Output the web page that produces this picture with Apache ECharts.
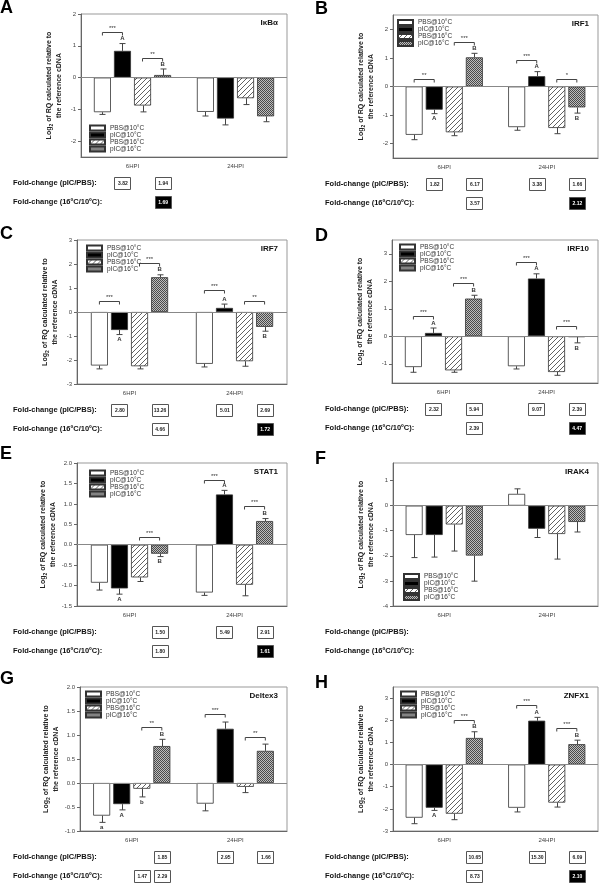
<!DOCTYPE html>
<html>
<head>
<meta charset="utf-8">
<script src="https://cdn.jsdelivr.net/npm/echarts@6/dist/echarts.min.js"></script>
<style>
html, body { margin: 0; padding: 0; background: #fff; }
#main { width: 600px; height: 885px; }
</style>
</head>
<body>
<div id="main"></div>
<script>
var categories = ['6HPI', '24HPI'];
var groups = ['PBS@10°C', 'pIC@10°C', 'PBS@16°C', 'pIC@16°C'];

// means and SE, order: 6HPI (4 groups) then 24HPI (4 groups)
var ikbaMean = [-1.09, 0.84, -0.88, 0.08, -1.08, -1.29, -0.65, -1.22];
var ikbaErr = [0.07, 0.23, 0.2, 0.19, 0.13, 0.2, 0.2, 0.17];
var irf1Mean = [-1.69, -0.81, -1.6, 1.02, -1.42, 0.36, -1.45, -0.73];
var irf1Err = [0.17, 0.14, 0.12, 0.14, 0.11, 0.16, 0.2, 0.2];
var irf7Mean = [-2.23, -0.75, -2.26, 1.45, -2.16, 0.17, -2.05, -0.62];
var irf7Err = [0.14, 0.19, 0.11, 0.1, 0.13, 0.16, 0.21, 0.18];
var irf10Mean = [-1.12, 0.12, -1.24, 1.37, -1.09, 2.1, -1.3, -0.03];
var irf10Err = [0.19, 0.18, 0.07, 0.12, 0.1, 0.17, 0.12, 0.21];
var stat1Mean = [-0.93, -1.07, -0.8, -0.22, -1.17, 1.23, -0.98, 0.58];
var stat1Err = [0.18, 0.14, 0.1, 0.07, 0.07, 0.1, 0.27, 0.06];
var irak4Mean = [-1.17, -1.17, -0.75, -1.99, 0.47, -0.92, -1.13, -0.65];
var irak4Err = [0.9, 0.88, 1.06, 1.02, 0.2, 0.35, 1.0, 0.4];
var deltexMean = [-0.68, -0.44, -0.12, 0.77, -0.43, 1.13, -0.08, 0.67];
var deltexErr = [0.14, 0.12, 0.17, 0.14, 0.15, 0.14, 0.12, 0.14];
var znfx1Mean = [-2.4, -1.95, -2.22, 1.2, -1.95, 1.98, -1.72, 0.92];
var znfx1Err = [0.27, 0.12, 0.27, 0.28, 0.19, 0.15, 0.2, 0.18];

// significance brackets: [category, from bar, to bar, height, stars]
var ikbaSig = [[0, 0, 1, 1.42, '***'], [0, 2, 3, 0.6, '**']];
var irf1Sig = [[0, 0, 1, 0.27, '**'], [0, 2, 3, 1.57, '***'], [1, 0, 1, 0.93, '***'], [1, 2, 3, 0.26, '*']];
var irf7Sig = [[0, 0, 1, 0.44, '***'], [0, 2, 3, 2.04, '***'], [1, 0, 1, 0.93, '***'], [1, 2, 3, 0.44, '**']];
var irf10Sig = [[0, 0, 1, 0.73, '***'], [0, 2, 3, 1.94, '***'], [1, 0, 1, 2.69, '***'], [1, 2, 3, 0.36, '***']];
var stat1Sig = [[0, 2, 3, 0.2, '***'], [1, 0, 1, 1.59, '***'], [1, 2, 3, 0.94, '***']];
var irak4Sig = [];
var deltexSig = [[0, 2, 3, 1.16, '**'], [1, 0, 1, 1.44, '***'], [1, 2, 3, 0.95, '**']];
var znfx1Sig = [[0, 2, 3, 2.0, '***'], [1, 0, 1, 2.68, '***'], [1, 2, 3, 1.63, '***']];

// letters beside error bars: [category, bar, letter]
var ikbaLetters = [[0, 1, 'A'], [0, 3, 'B']];
var fourLetters = [[0, 1, 'A'], [0, 3, 'B'], [1, 1, 'A'], [1, 3, 'B']];
var deltexLetters = [[0, 0, 'a'], [0, 1, 'A'], [0, 2, 'b'], [0, 3, 'B']];

// fold-change boxes: [row, category, bar, text, dark]
var ikbaFold = [[0, 0, 1, '3.82', 0], [0, 0, 3, '1.94', 0], [1, 0, 3, '1.69', 1]];
var irf1Fold = [[0, 0, 1, '1.82', 0], [0, 0, 3, '6.17', 0], [0, 1, 1, '3.38', 0], [0, 1, 3, '1.66', 0], [1, 0, 3, '3.57', 0], [1, 1, 3, '2.12', 1]];
var irf7Fold = [[0, 0, 1, '2.80', 0], [0, 0, 3, '13.26', 0], [0, 1, 1, '5.01', 0], [0, 1, 3, '2.69', 0], [1, 0, 3, '4.66', 0], [1, 1, 3, '1.72', 1]];
var irf10Fold = [[0, 0, 1, '2.32', 0], [0, 0, 3, '5.94', 0], [0, 1, 1, '9.07', 0], [0, 1, 3, '2.39', 0], [1, 0, 3, '2.39', 0], [1, 1, 3, '4.47', 1]];
var stat1Fold = [[0, 0, 3, '1.50', 0], [0, 1, 1, '5.49', 0], [0, 1, 3, '2.91', 0], [1, 0, 3, '1.80', 0], [1, 1, 3, '1.61', 1]];
var irak4Fold = [];
var deltexFold = [[0, 0, 3, '1.85', 0], [0, 1, 1, '2.95', 0], [0, 1, 3, '1.66', 0], [1, 0, 2, '1.47', 0], [1, 0, 3, '2.29', 0]];
var znfx1Fold = [[0, 0, 3, '10.65', 0], [0, 1, 1, '15.30', 0], [0, 1, 3, '6.09', 0], [1, 0, 3, '8.73', 0], [1, 1, 3, '2.10', 1]];

// y tick labels
var ticksA = [-2, -1, 0, 1, 2];
var ticksB = [-2, -1, 0, 1, 2];
var ticksC = [-3, -2, -1, 0, 1, 2, 3];
var ticksD = [-1, 0, 1, 2, 3];
var ticksE = [-1.5, -1, -0.5, 0, 0.5, 1, 1.5, 2];
var ticksF = [-4, -3, -2, -1, 0, 1];
var ticksG = [-1, -0.5, 0, 0.5, 1, 1.5, 2];
var ticksH = [-3, -2, -1, 0, 1, 2, 3];

var panels = [
    {tag: 'A', gene: 'IκBα', mean: ikbaMean, err: ikbaErr, sig: ikbaSig, letters: ikbaLetters, fold: ikbaFold, min: -2.5, max: 2, ticks: ticksA, dec: 0, box: [81, 14, 206, 143], leg: [89, 124.5], tagPos: [0, -1]},
    {tag: 'B', gene: 'IRF1', mean: irf1Mean, err: irf1Err, sig: irf1Sig, letters: fourLetters, fold: irf1Fold, min: -2.5, max: 2.5, ticks: ticksB, dec: 0, box: [393, 15, 205, 143], leg: [397, 19], tagPos: [315, 0]},
    {tag: 'C', gene: 'IRF7', mean: irf7Mean, err: irf7Err, sig: irf7Sig, letters: fourLetters, fold: irf7Fold, min: -3, max: 3, ticks: ticksC, dec: 0, box: [77, 240, 210, 144], leg: [86, 244.5], tagPos: [0, 225]},
    {tag: 'D', gene: 'IRF10', mean: irf10Mean, err: irf10Err, sig: irf10Sig, letters: fourLetters, fold: irf10Fold, min: -1.7, max: 3.5, ticks: ticksD, dec: 0, box: [392, 240, 206, 143], leg: [399, 243.5], tagPos: [315, 227]},
    {tag: 'E', gene: 'STAT1', mean: stat1Mean, err: stat1Err, sig: stat1Sig, letters: fourLetters, fold: stat1Fold, min: -1.5, max: 2, ticks: ticksE, dec: 1, box: [77, 463, 210, 143], leg: [89, 469.5], tagPos: [0, 445]},
    {tag: 'F', gene: 'IRAK4', mean: irak4Mean, err: irak4Err, sig: irak4Sig, letters: [], fold: irak4Fold, min: -4, max: 1.7, ticks: ticksF, dec: 0, box: [393, 463, 205, 143], leg: [403, 573], tagPos: [315, 450]},
    {tag: 'G', gene: 'Deltex3', mean: deltexMean, err: deltexErr, sig: deltexSig, letters: deltexLetters, fold: deltexFold, min: -1, max: 2, ticks: ticksG, dec: 1, box: [80, 687, 207, 144], leg: [85, 690.5], tagPos: [0, 670]},
    {tag: 'H', gene: 'ZNFX1', mean: znfx1Mean, err: znfx1Err, sig: znfx1Sig, letters: fourLetters, fold: znfx1Fold, min: -3, max: 3.5, ticks: ticksH, dec: 0, box: [393, 687, 205, 144], leg: [400, 690.5], tagPos: [315, 674]}
];

var FONT = '"Liberation Sans", Arial, sans-serif';
var barW = 17;
var step = barW * 1.18;   // bar width + 18% gap

function makeHatch() {
    var c = document.createElement('canvas');
    c.width = 5; c.height = 5;
    var ctx = c.getContext('2d');
    ctx.fillStyle = '#fff';
    ctx.fillRect(0, 0, 5, 5);
    ctx.strokeStyle = '#505050';
    ctx.lineWidth = 0.9;
    ctx.beginPath();
    ctx.moveTo(0, 5); ctx.lineTo(5, 0);
    ctx.moveTo(-1, 1); ctx.lineTo(1, -1);
    ctx.moveTo(4, 6); ctx.lineTo(6, 4);
    ctx.stroke();
    return c;
}
function makeChecker() {
    var c = document.createElement('canvas');
    c.width = 2; c.height = 2;
    var ctx = c.getContext('2d');
    ctx.fillStyle = '#bdbdbd';
    ctx.fillRect(0, 0, 2, 2);
    ctx.fillStyle = '#4a4a4a';
    ctx.fillRect(0, 0, 1, 1);
    ctx.fillRect(1, 1, 1, 1);
    return c;
}
var fills = ['#ffffff', '#000000', {image: makeHatch(), repeat: 'repeat'}, {image: makeChecker(), repeat: 'repeat'}];

function barX(api, cat, k) {
    return api.coord([cat, 0])[0] + (k - 1.5) * step;
}

function errRender(params, api) {
    var cat = api.value(0), v = api.value(1), e = api.value(2), k = api.value(3);
    var s = v >= 0 ? 1 : -1;
    var y0 = api.coord([cat, v])[1];
    var y1 = api.coord([cat, v + s * e])[1];
    var x = Math.round(barX(api, cat, k)) + 0.5;
    return {type: 'group', children: [
        {type: 'line', shape: {x1: x, y1: y0, x2: x, y2: y1}, style: {stroke: '#444', lineWidth: 1}},
        {type: 'line', shape: {x1: x - 3, y1: y1, x2: x + 3, y2: y1}, style: {stroke: '#444', lineWidth: 1}}
    ]};
}

function sigRender(list) {
    return function (params, api) {
        var b = list[params.dataIndex];
        var y = Math.round(api.coord([b[0], b[3]])[1]) + 0.5;
        var x1 = barX(api, b[0], b[1]), x2 = barX(api, b[0], b[2]);
        return {type: 'group', children: [
            {type: 'polyline', shape: {points: [[x1, y + 3], [x1, y], [x2, y], [x2, y + 3]]}, style: {stroke: '#444', lineWidth: 1, fill: null}},
            {type: 'text', style: {text: b[4], x: (x1 + x2) / 2, y: y - 1, font: '6px ' + FONT, fill: '#333', textAlign: 'center', textVerticalAlign: 'bottom'}}
        ]};
    };
}

function letterRender(list, mean, err) {
    return function (params, api) {
        var l = list[params.dataIndex];
        var idx = l[0] * 4 + l[1];
        var v = mean[idx], s = v >= 0 ? 1 : -1;
        var y = api.coord([l[0], v + s * err[idx]])[1] - s * 5;
        return {type: 'text', style: {text: l[2], x: barX(api, l[0], l[1]), y: y, font: 'bold 6px ' + FONT, fill: '#333', textAlign: 'center', textVerticalAlign: 'middle'}};
    };
}

function foldRender(list) {
    return function (params, api) {
        var f = list[params.dataIndex];
        var cs = params.coordSys;
        var x = barX(api, f[1], f[2]);
        var y = cs.y + cs.height + (f[0] === 0 ? 26 : 45);
        return {type: 'group', children: [
            {type: 'rect', shape: {x: Math.round(x - 8) + 0.5, y: Math.round(y - 6) + 0.5, width: 16, height: 12}, style: {fill: f[4] ? '#000' : '#fff', stroke: '#555', lineWidth: 1}},
            {type: 'text', style: {text: f[3], x: x + 0.5, y: y + 0.5, font: 'bold 5px ' + FONT, fill: f[4] ? '#fff' : '#222', textAlign: 'center', textVerticalAlign: 'middle'}}
        ]};
    };
}

var option = {
    animation: false,
    textStyle: {fontFamily: FONT},
    grid: [], xAxis: [], yAxis: [], legend: [], series: [], graphic: []
};

panels.forEach(function (p, i) {
    option.grid.push({left: p.box[0], top: p.box[1], width: p.box[2], height: p.box[3], show: true, borderColor: '#999', borderWidth: 1});
    option.xAxis.push({
        type: 'category', gridIndex: i, data: categories,
        axisLine: {onZero: false, lineStyle: {color: '#666', width: 1}},
        axisTick: {alignWithLabel: true, length: 3, lineStyle: {color: '#666'}},
        axisLabel: {fontSize: 6, color: '#444', margin: 6}
    });
    option.yAxis.push({
        type: 'value', gridIndex: i, min: p.min, max: p.max,
        splitLine: {show: false},
        axisLine: {show: true, lineStyle: {color: '#666', width: 1}},
        axisTick: {show: true, length: 3, customValues: p.ticks, lineStyle: {color: '#666'}},
        axisLabel: {fontSize: 6, color: '#444', margin: 5, customValues: p.ticks,
            formatter: (function (d) { return function (v) { return v.toFixed(d); }; })(p.dec)},
        name: 'Log{s|2} of RQ calculated relative to\nthe reference cDNA',
        nameLocation: 'middle', nameRotate: 90, nameGap: 17,
        nameTextStyle: {fontSize: 7, fontWeight: 'bold', color: '#222', lineHeight: 10,
            rich: {s: {fontSize: 5, fontWeight: 'bold', color: '#222', verticalAlign: 'bottom', lineHeight: 10}}}
    });
    option.legend.push({
        orient: 'vertical', left: p.leg[0], top: p.leg[1], padding: 0,
        itemWidth: 15, itemHeight: 5, itemGap: 0, selectedMode: false,
        icon: 'rect', data: groups,
        textStyle: {fontSize: 6.5, color: '#333', lineHeight: 7}
    });
    groups.forEach(function (g, k) {
        var s = {
            type: 'bar', name: g, xAxisIndex: i, yAxisIndex: i,
            barWidth: barW, barGap: '18%', silent: true,
            data: [p.mean[k], p.mean[4 + k]],
            itemStyle: {color: fills[k], borderColor: '#333', borderWidth: 0.8}
        };
        if (k === 0) {
            s.markLine = {silent: true, symbol: 'none', label: {show: false},
                lineStyle: {color: '#888', width: 1, type: 'solid'}, data: [{yAxis: 0}]};
        }
        option.series.push(s);
    });
    var errData = p.mean.map(function (v, j) { return [Math.floor(j / 4), v, p.err[j], j % 4]; });
    option.series.push({type: 'custom', xAxisIndex: i, yAxisIndex: i, clip: false, silent: true, z: 5, data: errData, renderItem: errRender});
    if (p.sig.length) {
        option.series.push({type: 'custom', xAxisIndex: i, yAxisIndex: i, clip: false, silent: true, z: 5,
            data: p.sig.map(function (b) { return [b[0], b[3]]; }), renderItem: sigRender(p.sig)});
    }
    if (p.letters.length) {
        option.series.push({type: 'custom', xAxisIndex: i, yAxisIndex: i, clip: false, silent: true, z: 5,
            data: p.letters.map(function (l) { return [l[0], 0]; }), renderItem: letterRender(p.letters, p.mean, p.err)});
    }
    if (p.fold.length) {
        option.series.push({type: 'custom', xAxisIndex: i, yAxisIndex: i, clip: false, silent: true, z: 5,
            data: p.fold.map(function (f) { return [f[1], 0]; }), renderItem: foldRender(p.fold)});
    }
    var col = p.box[0] < 300 ? 13 : 325;
    var bottom = p.box[1] + p.box[3];
    option.graphic.push(
        {type: 'text', x: p.tagPos[0], y: p.tagPos[1], style: {text: p.tag, font: 'bold 18px ' + FONT, fill: '#000', textVerticalAlign: 'top'}},
        {type: 'text', x: p.box[0] + p.box[2] - 9, y: p.box[1] + 9, style: {text: p.gene, font: 'bold 8px ' + FONT, fill: '#111', textAlign: 'right', textVerticalAlign: 'middle'}},
        {type: 'text', x: col, y: bottom + 26, style: {text: 'Fold-change (pIC/PBS):', font: 'bold 7.5px ' + FONT, fill: '#111', textVerticalAlign: 'middle'}},
        {type: 'text', x: col, y: bottom + 45, style: {text: 'Fold-change (16ºC/10ºC):', font: 'bold 7.5px ' + FONT, fill: '#111', textVerticalAlign: 'middle'}}
    );
});

var chart = echarts.init(document.getElementById('main'));
chart.setOption(option);
</script>
</body>
</html>
